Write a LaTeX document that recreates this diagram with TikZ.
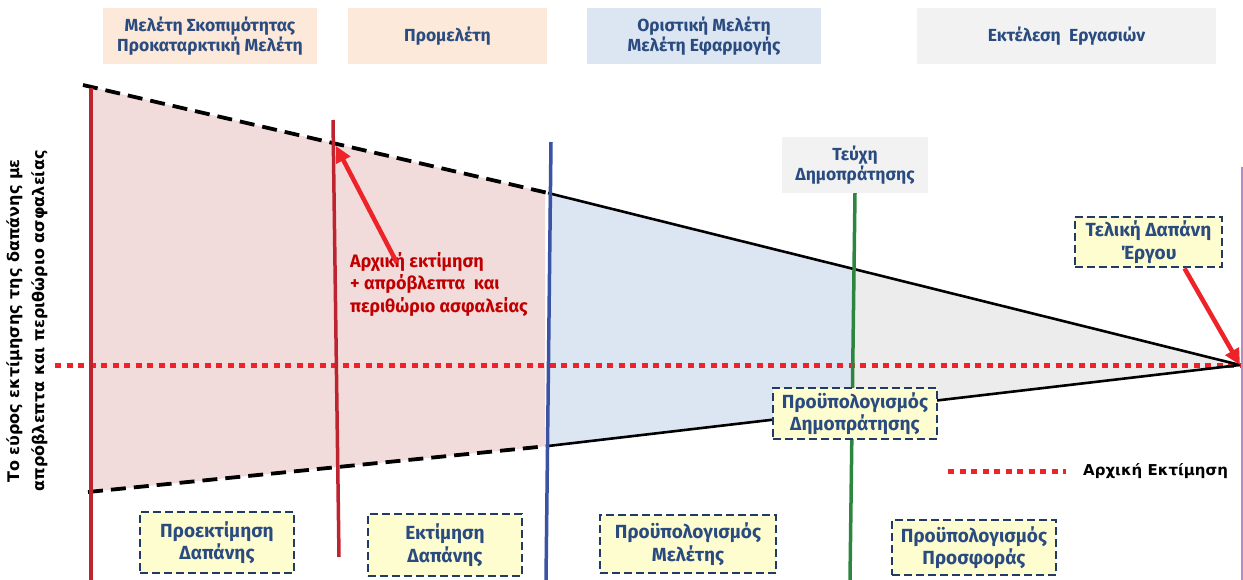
\documentclass[tikz,border=0pt]{standalone}
\usepackage{fontspec}
\setmainfont{Fira Sans}
\newfontfamily\axisfont{DejaVu Sans}
\usetikzlibrary{arrows.meta}

\definecolor{navy}{HTML}{2A4B7F}
\definecolor{boxline}{HTML}{1F3B66}
\definecolor{boxfill}{HTML}{FEFDD0}
\definecolor{peach}{HTML}{FDE9D9}
\definecolor{paleblue}{HTML}{DCE6F2}
\definecolor{palegray}{HTML}{F2F2F2}
\definecolor{pinkfill}{HTML}{F2DCDB}
\definecolor{bluefill}{HTML}{DCE6F2}
\definecolor{grayfill}{HTML}{ECECEC}
\definecolor{darkred}{HTML}{BE2430}
\definecolor{notered}{HTML}{C00000}
\definecolor{brightred}{HTML}{EE2229}
\definecolor{lineblue}{HTML}{3A53A4}
\definecolor{linegreen}{HTML}{2E8540}
\definecolor{linepurple}{HTML}{B58BCB}

\tikzset{
  header/.style={fill=#1, text=navy, align=center, inner sep=0pt,
    font=\bfseries\fontsize{17.5}{19.5}\selectfont},
  costbox/.style={draw=boxline, fill=boxfill, text=navy, line width=2.8pt,
    dash pattern=on 8pt off 4pt, align=center, inner sep=0pt,
    font=\bfseries\fontsize{19}{22.5}\selectfont},
  dotline/.style={brightred, line width=5pt, dash pattern=on 6pt off 5.5pt},
  bound/.style={black, line width=3.8pt, dash pattern=on 15pt off 8pt},
  boundsolid/.style={black, line width=2.6pt},
  phase/.style={line width=3.5pt},
  pointer/.style={brightred, line width=4.5pt,
    -{Triangle[length=16pt,width=15pt]}},
}

\begin{document}
\begin{tikzpicture}[x=1pt,y=-1pt]
\useasboundingbox (0,0) rectangle (1243,580);

% corners of the cost envelope
\coordinate (tl) at (83,85);
\coordinate (tm) at (548,193);
\coordinate (bl) at (88,492);
\coordinate (bm) at (548,446);
\coordinate (apex) at (1240,365);
\coordinate (tg) at (852,268.6);
\coordinate (bg) at (852,410.4);

% shaded zones between the bounds
\fill[pinkfill] (91,87) -- (545,192.3) -- (545,446.3) -- (91,491.7) -- cycle;
\fill[bluefill] (tm) -- (tg) -- (bg) -- (bm) -- cycle;
\fill[grayfill] (tg) -- (apex) -- (bg) -- cycle;

% initial estimate
\coordinate (d1) at (55,365);
\draw[dotline] (d1) -- (apex);

% upper and lower bounds
\draw[bound] (tl) -- (tm);
\draw[bound] (bl) -- (bm);
\draw[boundsolid] (tm) -- (apex);
\draw[boundsolid] (bm) -- (apex);

% phase limits
\coordinate (v1a) at (91,88);   \coordinate (v1b) at (91,580);
\coordinate (v2a) at (333,120); \coordinate (v2b) at (339,557);
\coordinate (v3a) at (551,142); \coordinate (v3b) at (546,580);
\coordinate (v4a) at (855,193); \coordinate (v4b) at (850,580);
\coordinate (v5a) at (1242,167); \coordinate (v5b) at (1242,580);
\draw[phase, darkred] (v1a) -- (v1b);
\draw[phase, darkred] (v2a) -- (v2b);
\draw[phase, lineblue] (v3a) -- (v3b);
\draw[phase, linegreen] (v4a) -- (v4b);
\draw[linepurple, line width=2pt] (v5a) -- (v5b);

% phase headers
\node[header=peach, minimum width=214pt, minimum height=56pt] (h1) at (210,36)
  {Μελέτη Σκοπιμότητας\\Προκαταρκτική Μελέτη};
\node[header=peach, minimum width=199pt, minimum height=56pt] (h2) at (447.5,36)
  {Προμελέτη};
\node[header=paleblue, minimum width=234pt, minimum height=56pt] (h3) at (704,36)
  {Οριστική Μελέτη\\Μελέτη Εφαρμογής};
\node[header=palegray, minimum width=299pt, minimum height=56pt] (h4) at (1066.5,36)
  {Εκτέλεση\ \ Εργασιών};
\node[header=palegray, minimum width=146pt, minimum height=56pt] (tender) at (855,165)
  {Τεύχη\\Δημοπράτησης};

% cost documents
\node[costbox, minimum width=147pt, minimum height=50pt] (final) at (1148.5,242)
  {Τελική Δαπάνη\\Έργου};
\node[costbox, minimum width=164pt, minimum height=51pt] (auction) at (855,413.5)
  {Προϋπολογισμός\\Δημοπράτησης};
\node[costbox, minimum width=154pt, minimum height=61pt] (b1) at (217,542.5)
  {Προεκτίμηση\\Δαπάνης};
\node[costbox, minimum width=154pt, minimum height=62pt] (b2) at (445,545)
  {Εκτίμηση\\Δαπάνης};
\node[costbox, minimum width=176pt, minimum height=58pt] (b3) at (688,544)
  {Προϋπολογισμός\\Μελέτης};
\node[costbox, minimum width=164pt, minimum height=55pt] (b4) at (974,547.5)
  {Προϋπολογισμός\\Προσφοράς};

% note on the first estimate
\node[anchor=north west, align=left, text=notered, inner sep=0pt,
  font=\bfseries\fontsize{18}{22.5}\selectfont] (note) at (350,252)
  {Αρχική εκτίμηση\\+ απρόβλεπτα\ \ και\\περιθώριο ασφαλείας};
\coordinate (hit) at (336,146);
\draw[pointer] ([xshift=47pt,yshift=-11pt]note.north west) -- (hit);
\draw[pointer] ([xshift=36pt]final.south) -- (apex);

% vertical axis title
\node[rotate=90, align=center, inner sep=0pt,
  font=\axisfont\bfseries\fontsize{16}{25}\selectfont] (axis) at (27.5,321)
  {Το εύρος εκτίμησης της δαπάνης με\\απρόβλεπτα και περιθώριο ασφαλείας};

% legend
\coordinate (lg1) at (948,471);
\coordinate (lg2) at (1066,471);
\draw[dotline] (lg1) -- (lg2);
\node[anchor=west, inner sep=0pt, font=\axisfont\bfseries\fontsize{15}{18}\selectfont]
  (legtext) at (1083,471) {Αρχική Εκτίμηση};
\end{tikzpicture}
\end{document}
